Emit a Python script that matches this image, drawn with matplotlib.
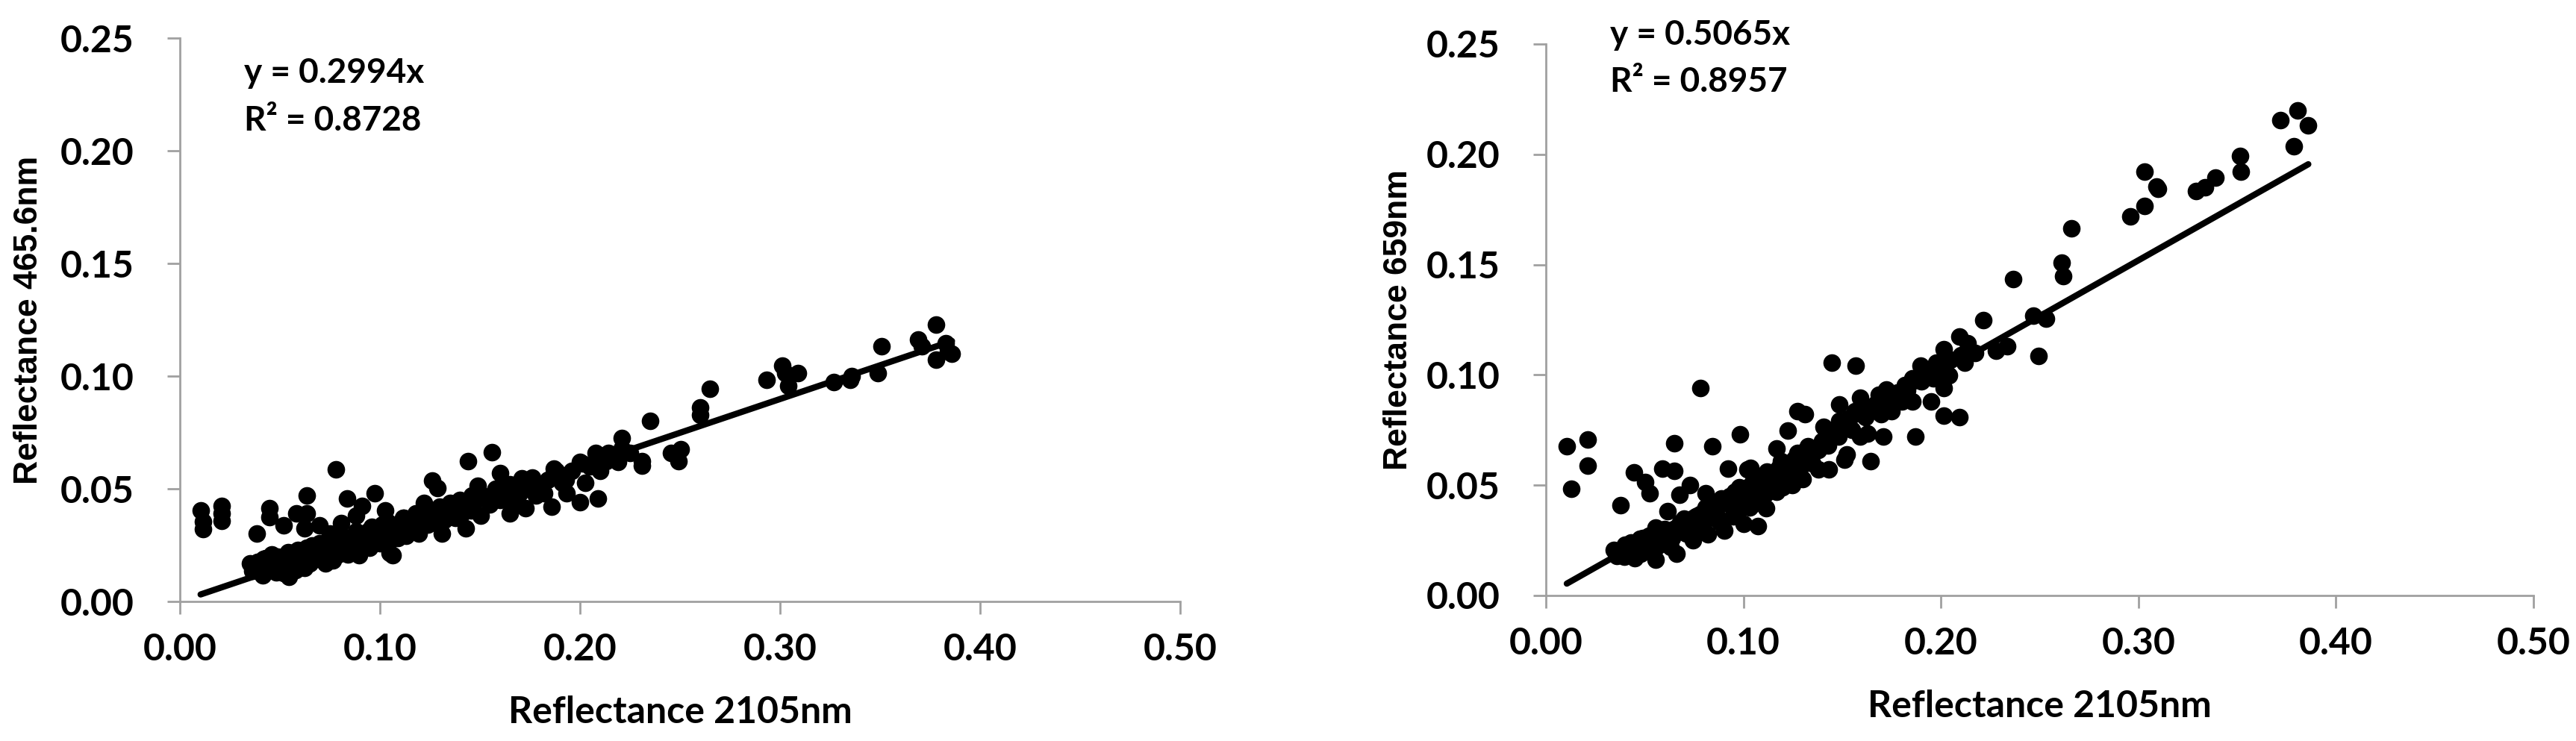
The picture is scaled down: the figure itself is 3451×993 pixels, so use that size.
import numpy as np
import matplotlib
matplotlib.use('Agg')
import matplotlib.pyplot as plt

# ---- data ----
x_465 = [0.0104, 0.0117, 0.0117, 0.0208, 0.0208, 0.0208, 0.0384, 0.0447, 0.0447, 0.052,
         0.0584, 0.0636, 0.0636, 0.0623, 0.078, 0.0836, 0.091, 0.0974, 0.088, 0.0805,
         0.096, 0.1026, 0.075, 0.070,
         0.035, 0.0364, 0.039, 0.0416, 0.0429, 0.0468, 0.049, 0.052, 0.0545, 0.056,
         0.057, 0.0623, 0.0636, 0.0675, 0.070, 0.0727, 0.0766, 0.078, 0.0805, 0.083,
         0.0857, 0.0896, 0.092, 0.0948, 0.0987, 0.1026, 0.105, 0.1065, 0.109, 0.1117,
         0.114, 0.118, 0.1195, 0.122, 0.1247, 0.126, 0.1286, 0.13, 0.131, 0.135,
         0.1377, 0.143, 0.144, 0.1455, 0.149, 0.1506, 0.156, 0.157, 0.16, 0.162,
         0.165, 0.1675, 0.171, 0.1727, 0.1766, 0.182, 0.1857, 0.187, 0.191, 0.1935,
         0.2, 0.2013, 0.2026, 0.209, 0.2078, 0.213, 0.2143, 0.2208, 0.2208, 0.231,
         0.231, 0.235, 0.2455, 0.2494, 0.2506, 0.26, 0.26, 0.265, 0.2935, 0.301,
         0.3026, 0.309, 0.304, 0.327, 0.335, 0.336, 0.349, 0.3506, 0.369, 0.371,
         0.378, 0.378, 0.384, 0.383, 0.386,
         0.038, 0.044, 0.048, 0.053, 0.058, 0.06, 0.065, 0.068, 0.072, 0.075,
         0.079, 0.082, 0.086, 0.09, 0.093, 0.097, 0.1, 0.103, 0.107, 0.11,
         0.113, 0.116, 0.12, 0.123, 0.127, 0.133, 0.138, 0.141, 0.147, 0.152,
         0.155, 0.158, 0.163, 0.168, 0.174, 0.178, 0.184, 0.19, 0.196, 0.205,
         0.215, 0.219, 0.225,
         0.042, 0.046, 0.05, 0.055, 0.059, 0.062, 0.066, 0.07, 0.074, 0.077,
         0.081, 0.085, 0.088, 0.092, 0.096, 0.099, 0.104, 0.108, 0.112, 0.117,
         0.121, 0.125, 0.13, 0.135, 0.14, 0.145, 0.15, 0.16, 0.165, 0.17,
         0.176, 0.18, 0.188, 0.193, 0.2, 0.21,
         0.04, 0.047, 0.051, 0.054, 0.061, 0.064, 0.069, 0.073, 0.078, 0.084,
         0.087, 0.094, 0.098, 0.101, 0.106, 0.111, 0.115, 0.119, 0.124, 0.128,
         0.132, 0.137, 0.142, 0.146]
y_465 = [0.0403, 0.0353, 0.032, 0.0425, 0.039, 0.0359, 0.0303, 0.0414, 0.0375, 0.0337,
         0.0392, 0.047, 0.039, 0.0325, 0.0586, 0.0458, 0.0425, 0.048, 0.038, 0.0348,
         0.0325, 0.0403, 0.0303, 0.0337,
         0.017, 0.0137, 0.0177, 0.0115, 0.0193, 0.016, 0.020, 0.0126, 0.011, 0.0215,
         0.017, 0.0148, 0.0237, 0.0193, 0.0259, 0.017, 0.0182, 0.0237, 0.0281, 0.0215,
         0.0259, 0.0204, 0.0303, 0.0237, 0.0281, 0.0337, 0.0215, 0.0204, 0.0281, 0.037,
         0.0314, 0.0392, 0.0303, 0.0436, 0.0348, 0.0536, 0.0503, 0.0392, 0.0303, 0.0436,
         0.037, 0.0325, 0.0624, 0.0403, 0.0514, 0.038, 0.0663, 0.0458, 0.0569, 0.0503,
         0.0392, 0.0436, 0.0547, 0.0414, 0.0503, 0.048, 0.042, 0.0591, 0.0525, 0.048,
         0.0442, 0.0613, 0.0525, 0.0458, 0.0658, 0.0624, 0.0658, 0.0724, 0.068, 0.0624,
         0.0602, 0.080, 0.0658, 0.0624, 0.0674, 0.0862, 0.0829, 0.0945, 0.0984, 0.1045,
         0.1012, 0.1012, 0.0956, 0.0973, 0.0984, 0.1, 0.1012, 0.1134, 0.1161, 0.1134,
         0.1228, 0.1073, 0.1111, 0.1145, 0.110,
         0.014, 0.016, 0.013, 0.018, 0.014, 0.02, 0.017, 0.022, 0.02, 0.024,
         0.021, 0.026, 0.023, 0.027, 0.025, 0.03, 0.026, 0.031, 0.028, 0.033,
         0.029, 0.035, 0.033, 0.037, 0.035, 0.04, 0.042, 0.039, 0.044, 0.046,
         0.043, 0.05, 0.048, 0.05, 0.052, 0.047, 0.054, 0.056, 0.058, 0.06,
         0.064, 0.062, 0.066,
         0.019, 0.021, 0.017, 0.02, 0.023, 0.018, 0.025, 0.02, 0.027, 0.023,
         0.029, 0.025, 0.031, 0.028, 0.033, 0.029, 0.035, 0.031, 0.037, 0.033,
         0.039, 0.036, 0.042, 0.038, 0.045, 0.041, 0.048, 0.045, 0.052, 0.048,
         0.055, 0.05, 0.058, 0.054, 0.062, 0.058,
         0.015, 0.018, 0.015, 0.022, 0.016, 0.021, 0.024, 0.018, 0.026, 0.021,
         0.028, 0.031, 0.027, 0.034, 0.029, 0.035, 0.031, 0.036, 0.034, 0.039,
         0.036, 0.041, 0.043, 0.047]

x_659 = [0.0106, 0.0127, 0.0212, 0.0212, 0.0377, 0.0446, 0.0504, 0.0525, 0.0589, 0.065,
         0.065, 0.0615, 0.0676, 0.073, 0.0782, 0.0843, 0.081, 0.0923, 0.0981, 0.1034,
         0.1074, 0.1003, 0.1167, 0.1225, 0.1273, 0.1313, 0.1446, 0.157, 0.1485, 0.1525,
         0.1592, 0.163, 0.1645, 0.171, 0.1724, 0.175, 0.1817, 0.1857, 0.187, 0.191,
         0.195, 0.1976, 0.2016, 0.2016, 0.2016, 0.2095, 0.2095, 0.2135, 0.2175, 0.2122,
         0.2215, 0.228, 0.2334, 0.2366, 0.2467, 0.2533, 0.2493, 0.2613, 0.2618, 0.266,
         0.2958, 0.3032, 0.3032, 0.309, 0.3098, 0.329, 0.3337, 0.339, 0.3515, 0.3517,
         0.3719, 0.3806, 0.386, 0.3788,
         0.0345, 0.0398, 0.0398, 0.0464, 0.0477, 0.0557, 0.0557, 0.061, 0.0663, 0.069,
         0.0743, 0.0796, 0.0822, 0.0875, 0.0902, 0.0928, 0.0955, 0.1021, 0.1048, 0.1088,
         0.1114, 0.114, 0.1167, 0.1207, 0.1247, 0.1273, 0.13, 0.1326, 0.1379, 0.1406,
         0.1432, 0.1485, 0.1512, 0.1565, 0.1592, 0.1618, 0.1684, 0.1698, 0.175, 0.1804,
         0.1857, 0.1897, 0.1963, 0.2042,
         0.036, 0.042, 0.045, 0.05, 0.053, 0.058, 0.063, 0.066, 0.071, 0.074,
         0.077, 0.08, 0.085, 0.088, 0.093, 0.097, 0.1, 0.105, 0.108, 0.112,
         0.118, 0.122, 0.126, 0.13, 0.135, 0.14, 0.145, 0.15, 0.155, 0.162,
         0.167, 0.173, 0.178, 0.183, 0.19, 0.195, 0.2, 0.205, 0.21,
         0.039, 0.043, 0.048, 0.052, 0.056, 0.06, 0.064, 0.068, 0.072, 0.076,
         0.079, 0.083, 0.087, 0.091, 0.095, 0.099, 0.103, 0.107, 0.111, 0.116,
         0.12, 0.124, 0.128, 0.133, 0.138, 0.143, 0.148, 0.153,
         0.04, 0.046, 0.049, 0.054, 0.057, 0.061, 0.067, 0.07, 0.075, 0.081,
         0.084, 0.089, 0.094, 0.098, 0.104, 0.109, 0.114, 0.119, 0.125, 0.131]
y_659 = [0.0678, 0.0484, 0.0708, 0.0587, 0.0408, 0.0558, 0.0514, 0.0462, 0.0575, 0.069,
         0.0565, 0.0382, 0.0455, 0.0499, 0.094, 0.0675, 0.0462, 0.0575, 0.073, 0.058,
         0.0316, 0.0323, 0.0668, 0.0749, 0.0837, 0.0822, 0.1057, 0.1042, 0.0866, 0.0639,
         0.0895, 0.0734, 0.0609, 0.0719, 0.0932, 0.0837, 0.0954, 0.0881, 0.0722, 0.1013,
         0.0881, 0.1057, 0.094, 0.1116, 0.0815, 0.0807, 0.1174, 0.1145, 0.1101, 0.1057,
         0.1248, 0.1108, 0.113, 0.1434, 0.127, 0.1255, 0.1086, 0.1509, 0.1449, 0.1666,
         0.172, 0.1767, 0.1923, 0.1853, 0.1843, 0.1835, 0.185, 0.1894, 0.1994, 0.192,
         0.2155, 0.2199, 0.2132, 0.2036,
         0.0206, 0.0176, 0.022, 0.0198, 0.0257, 0.0161, 0.0308, 0.0235, 0.0191, 0.0294,
         0.025, 0.0323, 0.0279, 0.0352, 0.0294, 0.0411, 0.047, 0.0573, 0.0411, 0.0499,
         0.0396, 0.0528, 0.047, 0.0602, 0.0499, 0.0646, 0.0528, 0.0675, 0.0573, 0.0763,
         0.0573, 0.0793, 0.0617, 0.0837, 0.0719, 0.0807, 0.091, 0.0822, 0.0881, 0.0881,
         0.0984, 0.1042, 0.0984, 0.0998,
         0.018, 0.022, 0.017, 0.024, 0.02, 0.027, 0.022, 0.03, 0.028, 0.033,
         0.029, 0.036, 0.04, 0.033, 0.045, 0.038, 0.048, 0.052, 0.045, 0.056,
         0.058, 0.054, 0.062, 0.065, 0.06, 0.07, 0.073, 0.077, 0.075, 0.085,
         0.087, 0.09, 0.092, 0.093, 0.097, 0.1, 0.104, 0.107, 0.109,
         0.02, 0.024, 0.019, 0.027, 0.022, 0.03, 0.026, 0.033, 0.03, 0.036,
         0.031, 0.038, 0.035, 0.042, 0.036, 0.045, 0.04, 0.05, 0.046, 0.053,
         0.049, 0.058, 0.055, 0.063, 0.066, 0.068, 0.072, 0.08,
         0.023, 0.021, 0.026, 0.024, 0.029, 0.025, 0.03, 0.035, 0.032, 0.04,
         0.036, 0.044, 0.041, 0.049, 0.047, 0.053, 0.051, 0.061, 0.057, 0.06]

slopes = [0.2994, 0.5065]
r2_vals = [0.8728, 0.8957]
y_labels = ['Reflectance 465.6nm', 'Reflectance 659nm']
x_label = 'Reflectance 2105nm'
x_ticks = [0.0, 0.1, 0.2, 0.3, 0.4, 0.5]
y_ticks = [0.0, 0.05, 0.10, 0.15, 0.20, 0.25]

axis_grey = '#a0a0a0'
main_font = 'Lato'

fig = plt.figure(figsize=(34.51, 9.93), dpi=100)
ax1 = fig.add_axes([0.0698, 0.1883, 0.3883, 0.7603])
ax2 = fig.add_axes([0.6001, 0.1964, 0.3834, 0.7442])

panels = [
    (ax1, x_465, y_465, 0, (0.032, 0.2301, 0.2089), -0.1507, -0.197),
    (ax2, x_659, y_659, 1, (0.0325, 0.2497, 0.2283), -0.149, -0.2016),
]

for ax, xs, ys, k, txt_pos, ylab_x, xlab_y in panels:
    xs = np.array(xs)
    ys = np.array(ys)
    ax.plot(xs, ys, 'o', color='black', ms=17, mew=0, zorder=3)
    # excel style trendline through origin, drawn over the data range
    xl = np.array([xs.min(), xs.max()])
    ax.plot(xl, slopes[k] * xl, color='black', lw=6, solid_capstyle='round', zorder=4)

    ax.set_xlim(0, 0.5)
    ax.set_ylim(0, 0.25)
    ax.set_xticks(x_ticks)
    ax.set_yticks(y_ticks)
    ax.set_xticklabels(['%.2f' % v for v in x_ticks])
    ax.set_yticklabels(['%.2f' % v for v in y_ticks])
    for s in ['top', 'right']:
        ax.spines[s].set_visible(False)
    for s in ['left', 'bottom']:
        ax.spines[s].set_color(axis_grey)
        ax.spines[s].set_linewidth(2)
    ax.tick_params(axis='both', direction='out', length=12, width=2, color=axis_grey)
    ax.tick_params(axis='x', pad=18)
    ax.tick_params(axis='y', pad=32)
    for lab in ax.get_xticklabels() + ax.get_yticklabels():
        lab.set_fontfamily(main_font)
        lab.set_fontsize(36)
        lab.set_fontweight('bold')

    ax.set_xlabel(x_label, fontsize=36, fontfamily=main_font, fontweight='bold')
    ax.xaxis.label.set_va('center')
    ax.xaxis.set_label_coords(0.5, xlab_y)
    ax.set_ylabel(y_labels[k], fontsize=32, fontfamily='Liberation Sans', fontweight='bold')
    ax.yaxis.label.set_va('center')
    ax.yaxis.set_label_coords(ylab_x, 0.5)

    tx, ty1, ty2 = txt_pos
    ax.text(tx, ty1, 'y = %.4fx' % slopes[k], fontsize=33, fontfamily=main_font,
            fontweight='bold', va='baseline', ha='left')
    ax.text(tx, ty2, 'R² = %.4f' % r2_vals[k], fontsize=33, fontfamily=main_font,
            fontweight='bold', va='baseline', ha='left')

fig.savefig('out.png', dpi=100, facecolor='white')
